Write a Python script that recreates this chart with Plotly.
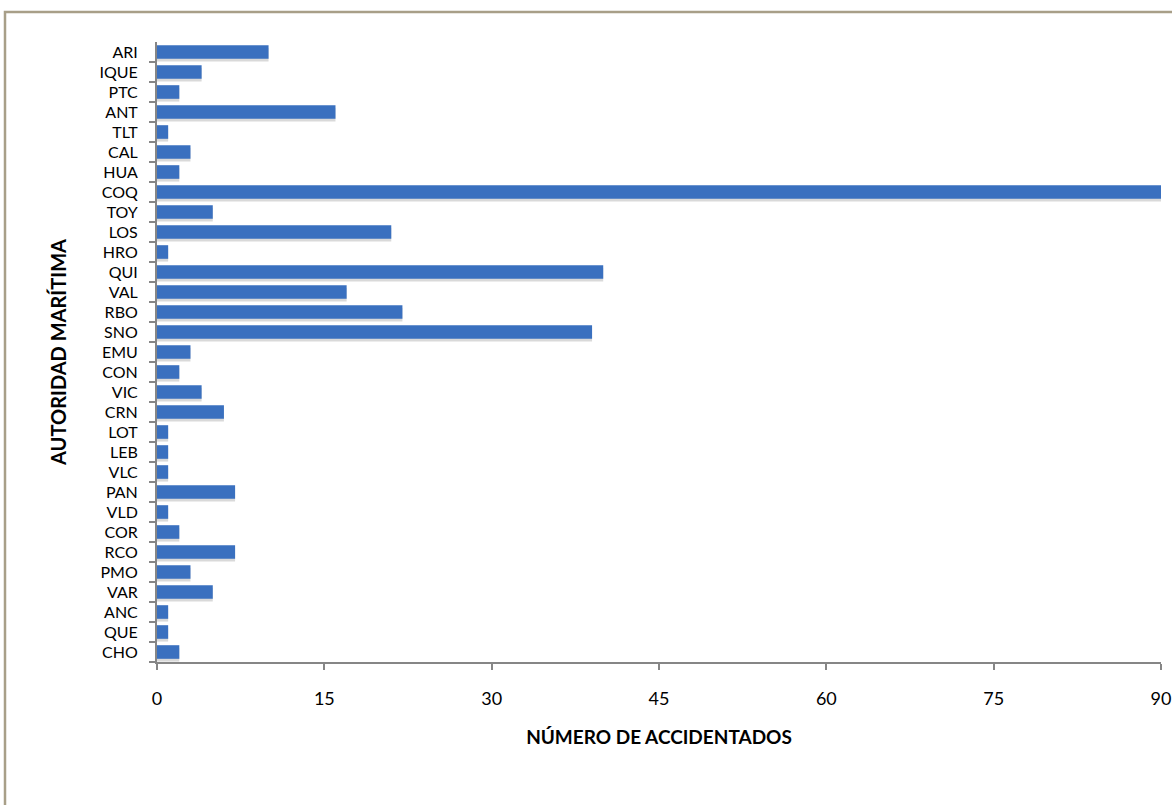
import plotly.graph_objects as go

categories = ["ARI", "IQUE", "PTC", "ANT", "TLT", "CAL", "HUA", "COQ", "TOY", "LOS",
              "HRO", "QUI", "VAL", "RBO", "SNO", "EMU", "CON", "VIC", "CRN", "LOT",
              "LEB", "VLC", "PAN", "VLD", "COR", "RCO", "PMO", "VAR", "ANC", "QUE", "CHO"]
values = [10, 4, 2, 16, 1, 3, 2, 90, 5, 21,
          1, 40, 17, 22, 39, 3, 2, 4, 6, 1,
          1, 1, 7, 1, 2, 7, 3, 5, 1, 1, 2]
x_ticks = [0, 15, 30, 45, 60, 75, 90]

font_family = "Lato, 'Open Sans', sans-serif"

W, H = 1172, 805
L, R, T, B = 157, 11, 42, 143
pw, ph = W - L - R, H - T - B

fig = go.Figure()
# soft shadow under bars
fig.add_trace(go.Bar(
    y=categories, x=values, orientation="h",
    marker=dict(color="rgba(0,0,0,0.15)", line=dict(width=0)),
    width=0.68, offset=-0.34 - 0.14, hoverinfo="skip",
))
fig.add_trace(go.Bar(
    y=categories, x=values, orientation="h",
    marker=dict(color="#3A70BF", line=dict(width=0)),
    width=0.68, offset=-0.34,
))

fig.update_layout(
    width=W, height=H,
    paper_bgcolor="white", plot_bgcolor="white",
    margin=dict(l=L, r=R, t=T, b=B, autoexpand=False),
    showlegend=False, barmode="overlay",
    font=dict(family=font_family, color="black"),
    shapes=[dict(type="rect", xref="paper", yref="paper",
                 x0=(5 - L) / pw, x1=(W + 20 - L) / pw,
                 y0=-(B + 20) / ph, y1=1 + (T - 12) / ph,
                 line=dict(color="#A89F88", width=2.5), fillcolor="rgba(0,0,0,0)",
                 layer="below")],
)
fig.update_xaxes(
    range=[0, 90], tickvals=x_ticks, ticks="outside", ticklen=6, tickwidth=2,
    tickcolor="#868686", showline=True, linecolor="#868686", linewidth=2,
    showgrid=False, zeroline=False, tickfont=dict(size=18),
    ticklabelstandoff=13, automargin=False,
    title=dict(text="<b>NÚMERO DE ACCIDENTADOS</b>", font=dict(size=19), standoff=23),
)
fig.update_yaxes(
    categoryorder="array", categoryarray=categories[::-1],
    tickmode="array", tickvals=categories, ticktext=categories,
    range=[-0.5, len(categories) - 0.5],
    ticks="outside", tickson="boundaries", ticklen=6, tickwidth=2,
    tickcolor="#868686", showline=True, linecolor="#868686", linewidth=2,
    showgrid=False, zeroline=False, tickfont=dict(size=16),
    ticklabelstandoff=14, automargin=False,
    title=dict(text="<b>AUTORIDAD MARÍTIMA</b>", font=dict(size=20), standoff=28),
)

fig.write_html("out.html", config={"displayModeBar": False},
               post_script="document.body.style.margin='0';")
